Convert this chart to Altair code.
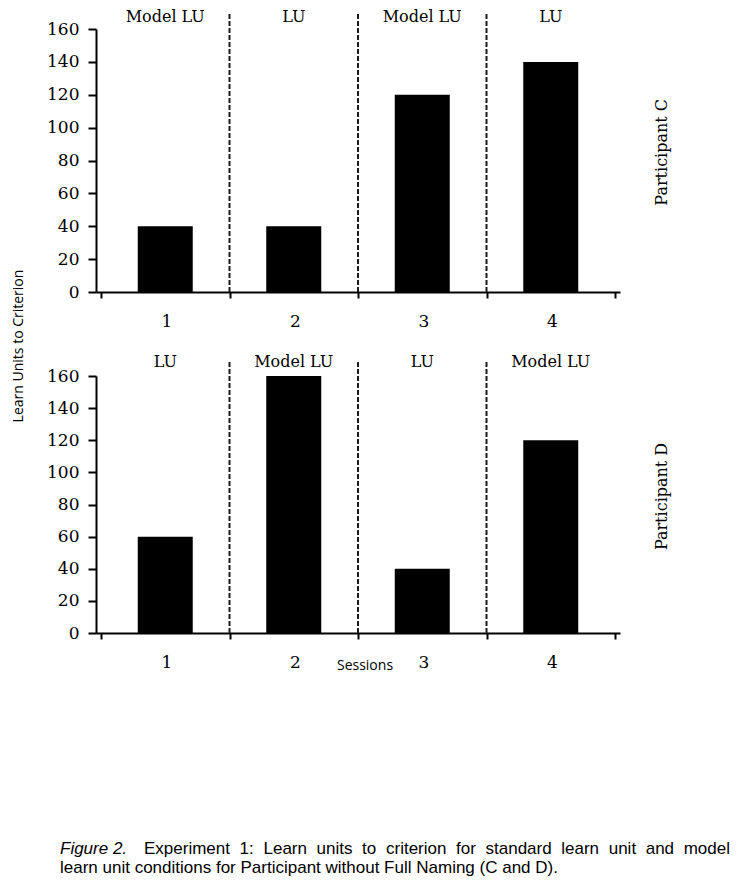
import altair as alt
import pandas as pd

# ---- data ----
sessions = [1, 2, 3, 4]
conds_C = ["Model LU", "LU", "Model LU", "LU"]
values_C = [40, 40, 120, 140]
conds_D = ["LU", "Model LU", "LU", "Model LU"]
values_D = [60, 160, 40, 120]
phase_boundaries = [1.5, 2.5, 3.5]
y_ticks = [0, 20, 40, 60, 80, 100, 120, 140, 160]
x_tick_positions = [0.5, 1.5, 2.5, 3.5, 4.5]
participants = ["Participant C", "Participant D"]
y_title = "Learn Units to Criterion"
x_title = "Sessions"
caption_lead = "Figure 2."
caption_line1 = ["Experiment", "1:", "Learn", "units", "to", "criterion", "for",
                 "standard", "learn", "unit", "and", "model"]
caption_line2 = "learn unit conditions for Participant without Full Naming (C and D)."

# ---- layout / style ----
SERIF = "DejaVu Serif"
SANS = "Open Sans"
CAP = "Liberation Sans"
W, H = 524, 625
x_scale = alt.Scale(domain=[0.5, 4.5], nice=False, zero=False)
yC_scale = alt.Scale(domain=[0, 160], range=[284, 21], nice=False, zero=False)
yD_scale = alt.Scale(domain=[0, 160], range=[625, 368], nice=False, zero=False)


def panel(vals, conds, yscale, label, axis_offset, label_y, label_base):
    df = pd.DataFrame({"session": sessions, "value": vals, "cond": conds,
                       "ly": [label_y] * 4})
    div = pd.DataFrame({"pos": phase_boundaries, "y0": [0] * 3, "y1": [170] * 3})
    lab = pd.DataFrame({"name": [label], "px": [4.866], "py": [85]})

    bars = alt.Chart(df).mark_bar(width=55, color="black").encode(
        x=alt.X("session:Q", scale=x_scale,
                axis=alt.Axis(values=x_tick_positions, orient="bottom",
                              offset=axis_offset, title=None, grid=False,
                              tickSize=6, tickWidth=2, tickColor="black",
                              domainWidth=2, domainColor="black",
                              labelExpr="datum.value < 4 ? format(datum.value + 0.5, 'd') : ''",
                              labelOffset=65.5, labelFlush=False,
                              labelBaseline="middle", labelPadding=23,
                              labelFont=SERIF, labelFontSize=17,
                              labelColor="black")),
        y=alt.Y("value:Q", scale=yscale,
                axis=alt.Axis(values=y_ticks, orient="left", title=None,
                              grid=False, tickSize=8, tickWidth=2,
                              tickColor="black", domainWidth=2,
                              domainColor="black", labelPadding=9,
                              labelFont=SERIF, labelFontSize=17,
                              labelColor="black")),
    )
    dividers = alt.Chart(div).mark_rule(strokeDash=[5, 2], strokeWidth=2,
                                        color="#1a1a1a").encode(
        x=alt.X("pos:Q", scale=x_scale, axis=None),
        y=alt.Y("y0:Q", scale=yscale, axis=None),
        y2="y1:Q",
    )
    conds_txt = alt.Chart(df).mark_text(font=SERIF, fontSize=16,
                                        baseline=label_base,
                                        color="black").encode(
        x=alt.X("session:Q", scale=x_scale, axis=None),
        y=alt.Y("ly:Q", scale=yscale, axis=None),
        text="cond:N",
    )
    part_txt = alt.Chart(lab).mark_text(font=SERIF, fontSize=16, angle=270,
                                        align="center", baseline="middle",
                                        color="black").encode(
        x=alt.X("px:Q", scale=x_scale, axis=None),
        y=alt.Y("py:Q", scale=yscale, axis=None),
        text="name:N",
    )
    return [bars, dividers, conds_txt, part_txt]


layers = []
layers += panel(values_C, conds_C, yC_scale, participants[0], 284 - H, 172.2, "top")
layers += panel(values_D, conds_D, yD_scale, participants[1], 0, 165.5, "alphabetic")

one = alt.Data(values=[{"a": 1}])
layers += [
    alt.Chart(one).mark_text(text=y_title, font=SANS, fontSize=14, angle=270,
                             align="center", baseline="middle",
                             color="black").encode(x=alt.value(-77), y=alt.value(338)),
    alt.Chart(one).mark_text(text=x_title, font=SANS, fontSize=14,
                             align="center", baseline="middle",
                             color="black").encode(x=alt.value(269), y=alt.value(658)),
    alt.Chart(one).mark_text(text=caption_lead, font=CAP, fontSize=17,
                             fontStyle="italic", align="left",
                             baseline="alphabetic",
                             color="black").encode(x=alt.value(-36), y=alt.value(846)),
    alt.Chart(one).mark_text(text=caption_line2, font=CAP, fontSize=17,
                             align="left", baseline="alphabetic",
                             color="black").encode(x=alt.value(-36), y=alt.value(865)),
]
word_x = [144, 239.6, 263.5, 316.6, 362.1, 386.0, 456.1, 485.5, 561.2, 608.7, 645.7, 730]
for i, (w, px) in enumerate(zip(caption_line1, word_x)):
    last = i == len(caption_line1) - 1
    layers.append(alt.Chart(one).mark_text(text=w, font=CAP, fontSize=17,
                                           align="right" if last else "left",
                                           baseline="alphabetic",
                                           color="black").encode(
        x=alt.value(px - 96), y=alt.value(846)))

chart = alt.layer(*layers).resolve_scale(
    y="independent"
).resolve_axis(
    x="independent", y="independent"
).properties(
    width=W, height=H,
    autosize=alt.AutoSizeParams(type="none"),
    padding={"left": 88, "top": 0, "right": 111, "bottom": 245},
    background="white",
).configure_view(stroke=None)

chart.save("out.html", embed_options={"renderer": "svg", "actions": False})
